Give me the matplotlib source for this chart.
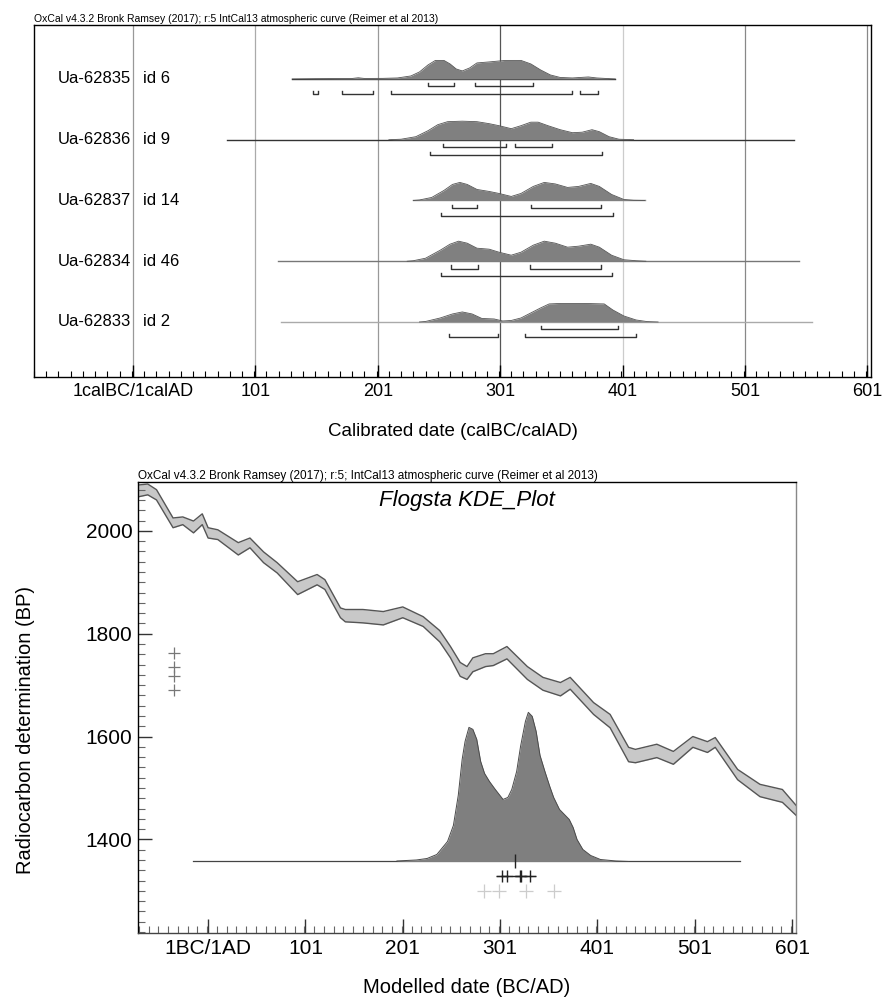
import numpy as np
import matplotlib.pyplot as plt
from matplotlib.ticker import MultipleLocator, FixedLocator

plt.rcParams['font.family'] = ['Liberation Sans', 'DejaVu Sans']

# ---------------- top panel data (calibrated single dates) ----------------
lab_codes = ['Ua-62835', 'Ua-62836', 'Ua-62837', 'Ua-62834', 'Ua-62833']
lab_ids = ['id 6', 'id 9', 'id 14', 'id 46', 'id 2']
line_spans = [(131, 395), (78, 541), (230, 419), (119, 545), (122, 556)]
line_cols = ['#333333', '#333333', '#888888', '#777777', '#aaaaaa']

dens_dates = [
    [131, 150, 180, 185, 190, 205, 217, 228, 235, 242, 248, 255, 260, 265, 270, 276, 282,
     292, 305, 318, 326, 334, 342, 350, 360, 373, 380, 395],
    [210, 220, 232, 242, 250, 258, 270, 282, 292, 300, 310, 318, 326, 332, 340, 350, 360,
     368, 376, 382, 390, 398, 410],
    [230, 235, 245, 255, 262, 268, 274, 282, 292, 300, 310, 318, 328, 337, 346, 356, 365,
     375, 382, 392, 402, 410, 419],
    [225, 230, 240, 252, 260, 267, 274, 282, 292, 300, 310, 318, 328, 337, 346, 356, 365,
     375, 382, 392, 402, 412, 420],
    [235, 240, 252, 262, 270, 278, 286, 296, 303, 310, 318, 326, 334, 341, 350, 370, 386,
     393, 402, 412, 421, 430],
]
dens_vals = [
    [0, 0.015, 0.025, 0.06, 0.025, 0.03, 0.05, 0.15, 0.35, 0.7, 0.925, 0.925, 0.75, 0.5,
     0.4, 0.55, 0.8, 0.85, 0.925, 0.925, 0.75, 0.45, 0.2, 0.075, 0.05, 0.1, 0.05, 0],
    [0, 0.025, 0.15, 0.45, 0.75, 0.9, 0.925, 0.9, 0.8, 0.7, 0.55, 0.7, 0.875, 0.875, 0.7,
     0.5, 0.35, 0.375, 0.5, 0.4, 0.15, 0.025, 0],
    [0, 0.025, 0.15, 0.5, 0.8, 0.9, 0.8, 0.55, 0.45, 0.35, 0.2, 0.35, 0.7, 0.9, 0.825,
     0.65, 0.7, 0.85, 0.7, 0.3, 0.05, 0.01, 0],
    [0, 0.025, 0.15, 0.55, 0.85, 1.0, 0.9, 0.65, 0.6, 0.45, 0.3, 0.45, 0.8, 1.0, 0.9, 0.7,
     0.75, 0.85, 0.7, 0.3, 0.075, 0.025, 0],
    [0, 0.025, 0.2, 0.4, 0.5, 0.4, 0.175, 0.15, 0.05, 0.075, 0.2, 0.45, 0.7, 0.9, 0.925,
     0.925, 0.9, 0.6, 0.3, 0.1, 0.02, 0],
]
# 68.2% and 95.4% ranges
ranges_68 = [
    [(242, 263), (280, 328)],
    [(254, 306), (313, 343)],
    [(262, 282), (326, 383)],
    [(261, 283), (325, 383)],
    [(334, 397)],
]
ranges_95 = [
    [(148, 152), (172, 197), (212, 360), (366, 381)],
    [(244, 384)],
    [(253, 393)],
    [(253, 392)],
    [(259, 299), (321, 412)],
]
top_ticks = [1, 101, 201, 301, 401, 501, 601]
top_ticklabels = ['1calBC/1calAD', '101', '201', '301', '401', '501', '601']
grid_cols = ['#999999', '#aaaaaa', '#999999', '#555555', '#cccccc', '#888888', '#888888']

# ---------------- bottom panel data (curve + KDE) ----------------
curve_date = [-71, -61, -52, -35, -25, -14, -5, 1, 11, 32, 44, 58, 72, 93, 113, 121, 137,
              142, 160, 181, 201, 222, 239, 250, 260, 267, 273, 286, 294, 308, 329, 345,
              363, 373, 397, 414, 433, 440, 462, 479, 499, 514, 522, 545, 568, 591, 606]
curve_hi = [2089, 2091, 2080, 2025, 2027, 2019, 2033, 2006, 2002, 1977, 1986, 1959, 1938,
            1901, 1915, 1905, 1850, 1847, 1847, 1843, 1852, 1833, 1806, 1775, 1744, 1736,
            1753, 1761, 1761, 1775, 1736, 1715, 1705, 1715, 1666, 1643, 1579, 1575, 1585,
            1571, 1600, 1590, 1598, 1536, 1507, 1497, 1464]
curve_lo = [2066, 2070, 2060, 2006, 2012, 1996, 2012, 1986, 1983, 1953, 1967, 1938, 1918,
            1876, 1895, 1886, 1831, 1823, 1821, 1817, 1831, 1814, 1784, 1753, 1717, 1711,
            1726, 1736, 1738, 1751, 1711, 1690, 1679, 1692, 1643, 1617, 1551, 1549, 1559,
            1546, 1579, 1569, 1579, 1516, 1483, 1472, 1445]

kde_date = [195, 215, 226, 236, 247, 253, 258, 262, 265, 269, 273, 277, 281, 285, 290, 296,
            304, 309, 313, 318, 322, 327, 330, 334, 338, 342, 347, 352, 356, 362, 368, 372,
            376, 380, 386, 394, 404, 420, 433]
kde_px = [0.5, 1.5, 3, 7, 20, 36, 66, 102, 120, 134, 132, 122, 100, 88, 80, 72, 62, 64, 72,
          90, 115, 140, 149, 145, 130, 106, 90, 75, 64, 52, 46, 42, 34, 22, 12, 6, 2, 0.5, 0]
kde_rel = np.array(kde_px) / 149.0
kde_base = 1357
kde_span = (-14, 547)
kde_median = 316

c14_dates = [1763, 1736, 1717, 1691]
c14_x = -34
samp_dark = [303, 308, 321, 322, 332]
samp_dark_bp = 1328
samp_light = [284, 300, 328, 356]
samp_light_bp = 1299

title_top = 'OxCal v4.3.2 Bronk Ramsey (2017); r:5 IntCal13 atmospheric curve (Reimer et al 2013)'
title_bot = 'OxCal v4.3.2 Bronk Ramsey (2017); r:5; IntCal13 atmospheric curve (Reimer et al 2013)'

fig = plt.figure(figsize=(8.83, 10.02), dpi=100)

# ================= top panel =================
ax1 = fig.add_axes([0.0385, 0.6238, 0.9479, 0.3513])
ax1.set_xlim(-80, 604)
ax1.set_ylim(-4.905, 0.889)
for t, c in zip(top_ticks, grid_cols):
    ax1.axvline(t, color=c, lw=0.9, zorder=0)

hscale = 0.33
for i in range(5):
    y0 = -i
    ax1.plot(line_spans[i], [y0, y0], color=line_cols[i], lw=1.0, zorder=2)
    d = np.array(dens_dates[i])
    v = np.array(dens_vals[i]) * hscale
    ax1.fill_between(d, y0, y0 + v, color='#808080', lw=0, zorder=3)
    ax1.plot(d, y0 + v, color='#555555', lw=0.6, zorder=4)
    for a, b in ranges_68[i]:
        yb = y0 - 0.12
        ax1.plot([a, a, b, b], [yb + 0.05, yb, yb, yb + 0.05], color='#333333', lw=1.0)
    for a, b in ranges_95[i]:
        yb = y0 - 0.25
        ax1.plot([a, a, b, b], [yb + 0.05, yb, yb, yb + 0.05], color='#333333', lw=1.0)
    ax1.text(-1, y0, lab_codes[i], ha='right', va='center', fontsize=12)
    ax1.text(9, y0, lab_ids[i], ha='left', va='center', fontsize=12)

ax1.set_yticks([])
ax1.xaxis.set_major_locator(FixedLocator(top_ticks))
ax1.set_xticklabels(top_ticklabels)
ax1.xaxis.set_minor_locator(MultipleLocator(10))
ax1.tick_params(axis='x', which='major', direction='in', length=9, width=1,
                labelsize=13, pad=4)
ax1.tick_params(axis='x', which='minor', direction='in', length=4, width=0.8)
ax1.set_xlabel('Calibrated date (calBC/calAD)', fontsize=13.5, labelpad=17)
ax1.set_title(title_top, loc='left', fontsize=7.5, pad=2)
for s in ax1.spines.values():
    s.set_linewidth(1.0)

# ================= bottom panel =================
ax2 = fig.add_axes([0.1563, 0.0689, 0.7452, 0.4501])
ax2.set_xlim(-71, 605)
ax2.set_ylim(1218, 2095)

ax2.fill_between(curve_date, curve_lo, curve_hi, color='#c8c8c8', lw=0, zorder=1)
ax2.plot(curve_date, curve_hi, color='#555555', lw=1.0, zorder=2)
ax2.plot(curve_date, curve_lo, color='#555555', lw=1.0, zorder=2)

ax2.plot(kde_span, [kde_base, kde_base], color='#444444', lw=0.9, zorder=2)
ax2.fill_between(kde_date, kde_base, kde_base + kde_rel * 290, color='#7f7f7f', lw=0,
                 zorder=3)
ax2.plot(kde_date, kde_base + kde_rel * 290, color='#4a4a4a', lw=0.7, zorder=4)
ax2.plot([kde_median], [kde_base], marker='|', ms=10, mew=1.0, color='#222222', zorder=5)

ax2.plot([c14_x] * len(c14_dates), c14_dates, ls='none', marker='+', ms=8, mew=0.9,
         color='#777777')
ax2.plot([min(samp_dark) - 5, max(samp_dark) + 5], [samp_dark_bp, samp_dark_bp],
         color='#222222', lw=0.9)
ax2.plot(samp_dark, [samp_dark_bp] * len(samp_dark), ls='none', marker='+', ms=9,
         mew=1.0, color='#222222')
ax2.plot(samp_light, [samp_light_bp] * len(samp_light), ls='none', marker='+', ms=10,
         mew=0.9, color='#cccccc')

ax2.text(0.5, 0.96, 'Flogsta KDE_Plot', transform=ax2.transAxes, ha='center', va='center',
         fontsize=16, style='italic')

ax2.xaxis.set_major_locator(FixedLocator([1, 101, 201, 301, 401, 501, 601]))
ax2.set_xticklabels(['1BC/1AD', '101', '201', '301', '401', '501', '601'])
ax2.xaxis.set_minor_locator(MultipleLocator(10))
ax2.yaxis.set_major_locator(FixedLocator([1400, 1600, 1800, 2000]))
ax2.yaxis.set_minor_locator(MultipleLocator(20))
ax2.tick_params(which='major', direction='in', length=10, width=1, labelsize=15, pad=4,
                color='#333333')
ax2.tick_params(which='minor', direction='in', length=5, width=0.8, color='#666666')
ax2.set_xlabel('Modelled date (BC/AD)', fontsize=14.5, labelpad=15)
ax2.set_ylabel('Radiocarbon determination (BP)', fontsize=14.5)
ax2.yaxis.set_label_coords(-0.157, 0.45)
ax2.set_title(title_bot, loc='left', fontsize=8.5, pad=2)
ax2.spines['right'].set_color('#888888')
ax2.spines['bottom'].set_color('#444444')
for s in ax2.spines.values():
    s.set_linewidth(1.0)

fig.savefig('out.png', dpi=100, facecolor='white')
